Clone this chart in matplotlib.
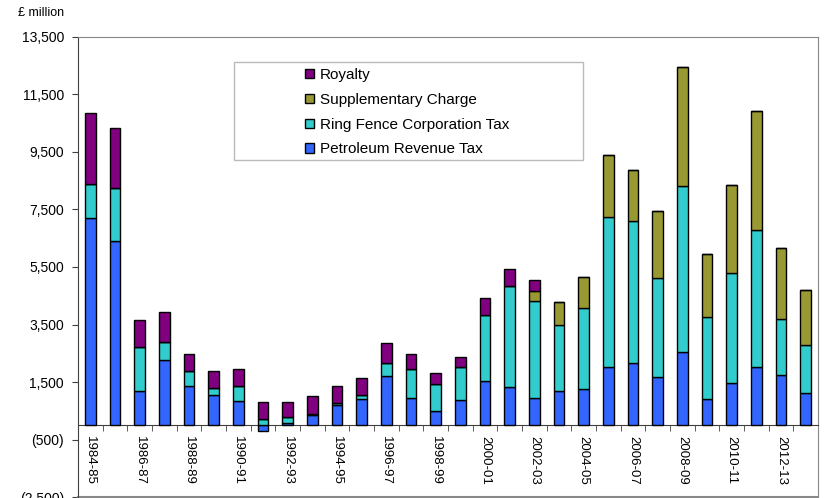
import numpy as np
import matplotlib
matplotlib.use("Agg")
import matplotlib.pyplot as plt
from matplotlib.patches import Rectangle

plt.rcParams["font.family"] = ["Liberation Sans", "DejaVu Sans"]

years = ["1984-85", "1985-86", "1986-87", "1987-88", "1988-89", "1989-90",
         "1990-91", "1991-92", "1992-93", "1993-94", "1994-95", "1995-96",
         "1996-97", "1997-98", "1998-99", "1999-00", "2000-01", "2001-02",
         "2002-03", "2003-04", "2004-05", "2005-06", "2006-07", "2007-08",
         "2008-09", "2009-10", "2010-11", "2011-12", "2012-13", "2013-14"]

# £ million
prt = [7210, 6405, 1180, 2275, 1355, 1050, 855, -200, 80, 350,
       690, 925, 1705, 945, 480, 865, 1530, 1320, 945, 1190,
       1250, 2020, 2160, 1660, 2545, 925, 1450, 2020, 1750, 1120]
rfct = [1190, 1855, 1530, 620, 515, 240, 500, 220, 190, 20,
        95, 140, 445, 995, 955, 1145, 2300, 3510, 3385, 2300,
        2825, 5225, 4945, 3440, 5775, 2845, 3825, 4770, 1925, 1670]
supp = [0, 0, 0, 0, 0, 0, 0, 0, 0, 0,
        0, 0, 0, 0, 0, 0, 0, 0, 325, 780,
        1060, 2150, 1765, 2355, 4140, 2195, 3090, 4145, 2485, 1915]
royalty = [2450, 2065, 955, 1050, 595, 590, 585, 580, 535, 630,
           580, 580, 720, 525, 385, 370, 595, 585, 400, 0,
           0, 0, 0, 0, 0, 0, 0, 0, 0, 0]

series = [
    ("Petroleum Revenue Tax", prt, "#3366FF"),
    ("Ring Fence Corporation Tax", rfct, "#33CCCC"),
    ("Supplementary Charge", supp, "#999933"),
    ("Royalty", royalty, "#800080"),
]

fig = plt.figure(figsize=(8.27, 4.98), dpi=100)
ax = fig.add_axes([78 / 827, 1 - 497 / 498, 740 / 827, 460 / 498])

x = np.arange(len(years))
pos_bottom = np.zeros(len(years))
neg_bottom = np.zeros(len(years))
handles = {}
for name, vals, col in series:
    vals = np.array(vals, dtype=float)
    bottom = np.where(vals >= 0, pos_bottom, neg_bottom)
    bars = ax.bar(x, vals, width=0.43, bottom=bottom, color=col,
                  edgecolor="black", linewidth=1.0, zorder=3)
    handles[name] = bars
    pos_bottom += np.where(vals > 0, vals, 0)
    neg_bottom += np.where(vals < 0, vals, 0)

ax.set_xlim(-0.5, len(years) - 0.5)
ax.set_ylim(-2500, 13500)

yt = np.arange(-2500, 13501, 2000)
ax.set_yticks(yt)
ax.set_yticklabels([f"({abs(v):,})" if v < 0 else f"{v:,}" for v in yt],
                   fontsize=10)
ax.tick_params(axis="y", direction="out", length=4, pad=6, color="#404040")

# category axis sits on zero
ax.spines["bottom"].set_position(("data", 0))
ax.spines["bottom"].set_color("#404040")
ax.set_xticks(x[::2])
ax.set_xticklabels(years[::2], rotation=270, fontsize=9.5, va="top")
ax.set_xticks(np.arange(0.5, len(years) - 0.5, 1), minor=True)
ax.tick_params(axis="x", which="major", length=0, pad=8)
ax.tick_params(axis="x", which="minor", direction="out", length=4,
               color="#404040")

ax.spines["left"].set_color("#404040")
ax.spines["top"].set_color("#888888")
ax.spines["right"].set_color("#888888")
ax.plot([0, 1], [0, 0], transform=ax.transAxes, color="#888888",
        linewidth=1.5, clip_on=False)

fig.text(18 / 827, 1 - 13 / 498, "£ million", fontsize=9, va="center")

# legend box
ax.add_patch(Rectangle((0.211, 0.7326), 0.471, 0.213, transform=ax.transAxes,
                       facecolor="white", edgecolor="#BBBBBB", linewidth=1.0,
                       zorder=4))
order = ["Royalty", "Supplementary Charge", "Ring Fence Corporation Tax",
         "Petroleum Revenue Tax"]
ax.legend([handles[n] for n in order], order, loc="upper left",
          bbox_to_anchor=(0.307, 0.932), frameon=False, fontsize=11,
          handlelength=0.55, handleheight=0.55, handletextpad=0.4,
          labelspacing=0.7, borderpad=0, borderaxespad=0).set_zorder(5)

fig.savefig("out.png", dpi=100)
